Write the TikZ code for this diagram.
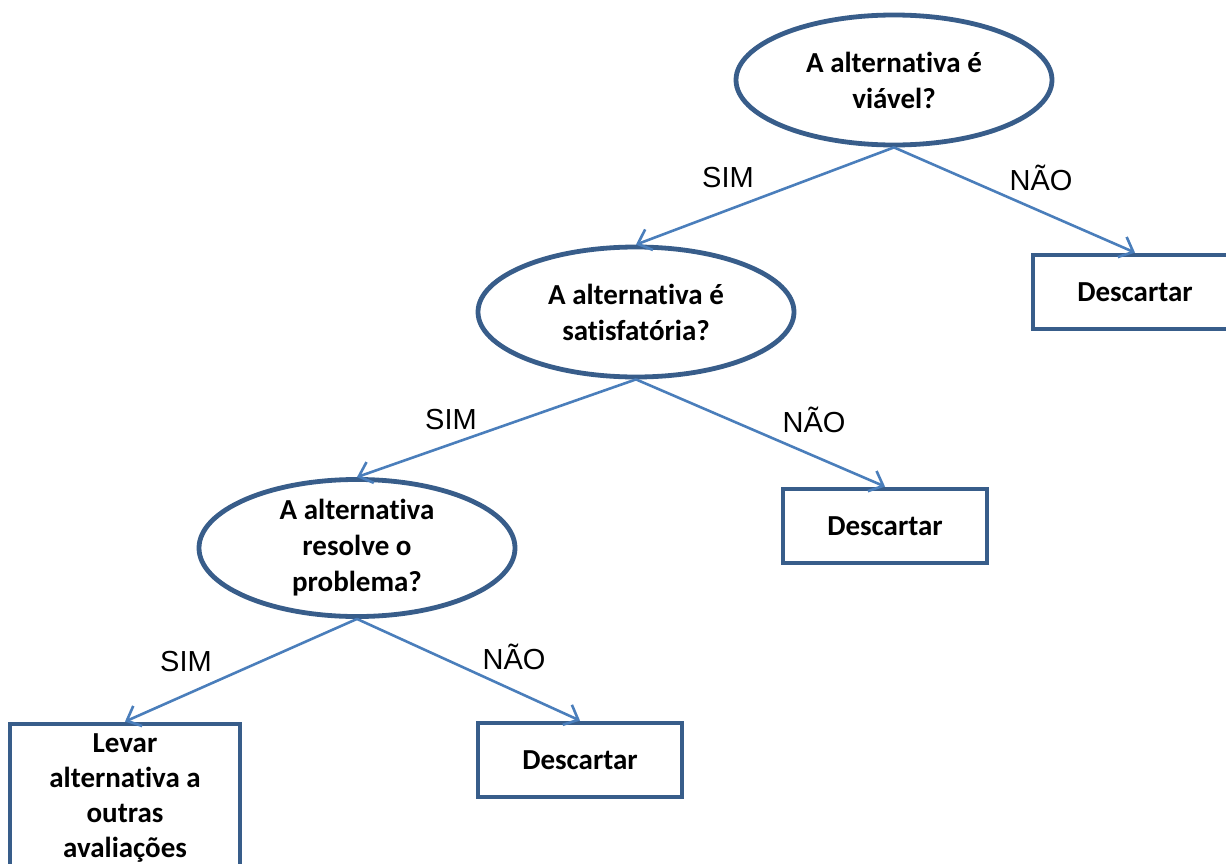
\documentclass[tikz,border=0pt]{standalone}
\usepackage{fontspec}
\setmainfont[Ligatures=NoCommon]{Carlito}
\newfontfamily\labelfont{Liberation Sans}
\usetikzlibrary{shapes.geometric,arrows.meta}
\definecolor{borderblue}{RGB}{56,93,138}
\definecolor{lineblue}{RGB}{74,126,187}
\begin{document}
\begin{tikzpicture}[x=1bp,y=-1bp,
  question/.style={ellipse,draw=borderblue,line width=4.8bp,fill=white,
    minimum width=316bp,minimum height=130bp,inner sep=0pt,align=center,
    font=\fontsize{29bp}{36bp}\selectfont\bfseries},
  outcome/.style={rectangle,draw=borderblue,line width=4.8bp,fill=white,
    minimum width=204bp,minimum height=74bp,inner sep=0pt,align=center,
    font=\fontsize{29bp}{35bp}\selectfont\bfseries},
  conn/.style={draw=lineblue,line width=2.6bp,
    -{Straight Barb[length=12bp,width=22bp,line width=2.6bp]}},
  lbl/.style={font=\labelfont\fontsize{29bp}{34bp}\selectfont,inner sep=0pt}]
\useasboundingbox (0,0) rectangle (1226,864);
\node[question] (q1) at (894,80) {A alternativa é\\viável?};
\node[question] (q2) at (636,312) {A alternativa é\\satisfatória?};
\node[question] (q3) at (357,548) {A alternativa\\resolve o\\problema?};
\node[outcome] (d1) at (1135,292) {Descartar};
\node[outcome] (d2) at (885,526) {Descartar};
\node[outcome] (d3) at (580,760) {Descartar};
\node[outcome,minimum width=230bp,minimum height=148bp] (lv) at (125,798)
  {Levar\\alternativa a\\outras\\avaliações};
\draw[conn] (q1.south) -- (q2.north);
\draw[conn] (q1.south) -- (d1.north);
\draw[conn] (q2.south) -- (q3.north);
\draw[conn] (q2.south) -- (d2.north);
\draw[conn] (q3.south) -- (lv.north);
\draw[conn] (q3.south) -- (d3.north);
\node[lbl] (s1) at (728,178) {SIM};
\node[lbl] (n1) at (1041,178) {NÃO};
\node[lbl] (s2) at (451,420) {SIM};
\node[lbl] (n2) at (814,420) {NÃO};
\node[lbl] (s3) at (186,662) {SIM};
\node[lbl] (n3) at (514,657) {NÃO};
\end{tikzpicture}
\end{document}
